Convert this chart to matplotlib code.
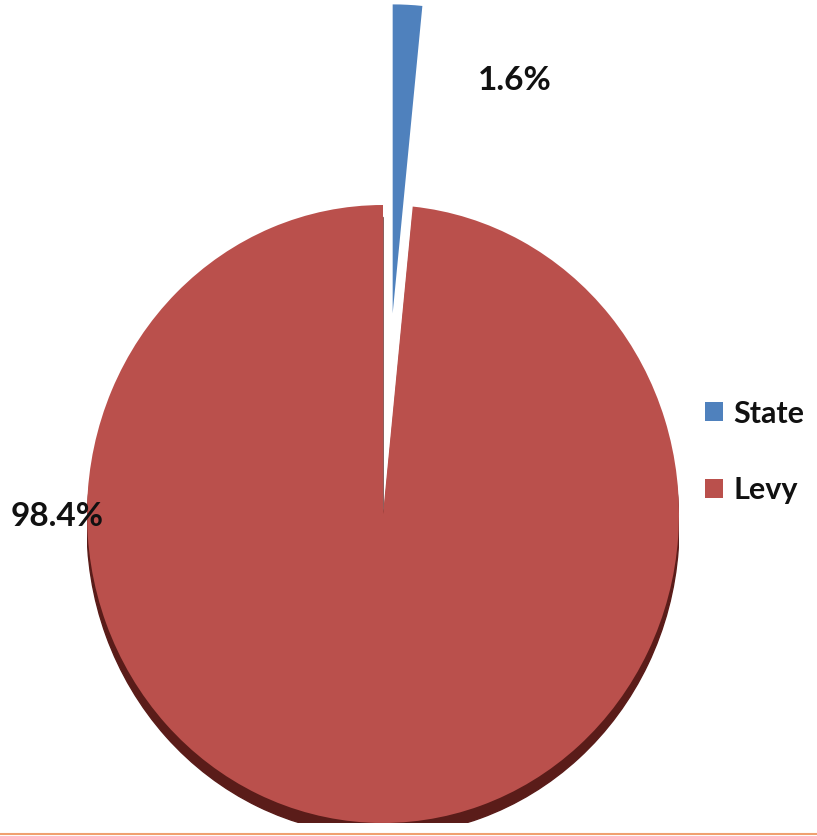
import numpy as np
import matplotlib
matplotlib.use("Agg")
from matplotlib import pyplot as plt
from matplotlib.patches import Wedge
from matplotlib.lines import Line2D

labels = ["State", "Levy"]
values = [1.6, 98.4]
colors = ["#4F81BD", "#BA504C"]
explode = [0.65, 0.0]

W, H = 817, 836
plt.rcParams['font.family'] = ['Lato', 'DejaVu Sans']

fig = plt.figure(figsize=(W / 100, H / 100), dpi=100)

# pie bounding box in pixels (top-left origin): centre (383, 514), radii 296 x 309
cx, cy, rx, ry = 383, 514, 296, 309
ax = fig.add_axes([(cx - rx) / W, 1 - (cy + ry) / H, 2 * rx / W, 2 * ry / H])

# dark rim / depth under the big slice (same angular span as Levy)
state_deg = 360 * values[0] / sum(values)
ax.add_patch(Wedge((0, -0.04), 1.0, 90, 450 - state_deg, color="#5A1C19", zorder=0))

wedges, _ = ax.pie(values, colors=colors, explode=explode, startangle=90,
                   counterclock=False, radius=1.0,
                   wedgeprops=dict(linewidth=0))
for w in wedges:
    w.set_clip_on(False)
    w.set_zorder(1)
ax.set_aspect('auto')
ax.set_xlim(-1, 1)
ax.set_ylim(-1, 1)
ax.axis('off')

# percentage labels
label_pos = [(515, 80), (57, 517)]
for v, (px, py) in zip(values, label_pos):
    fig.text(px / W, 1 - py / H, f"{v:.1f}%", ha='center', va='center',
             fontsize=24, fontweight='bold', color='#111111')

leg = fig.legend(wedges, labels, loc='center left',
                 bbox_to_anchor=(677 / W, 1 - 452 / H), frameon=False,
                 fontsize=22, handlelength=0.6, handleheight=0.6,
                 handletextpad=0.35, labelspacing=1.6)
for t in leg.get_texts():
    t.set_fontweight('bold')
    t.set_color('#111111')

fig.add_artist(Line2D([0, 1], [1 - 834 / H, 1 - 834 / H], transform=fig.transFigure,
                      color="#F0A070", linewidth=1.5))

fig.savefig("out.png", dpi=100)
